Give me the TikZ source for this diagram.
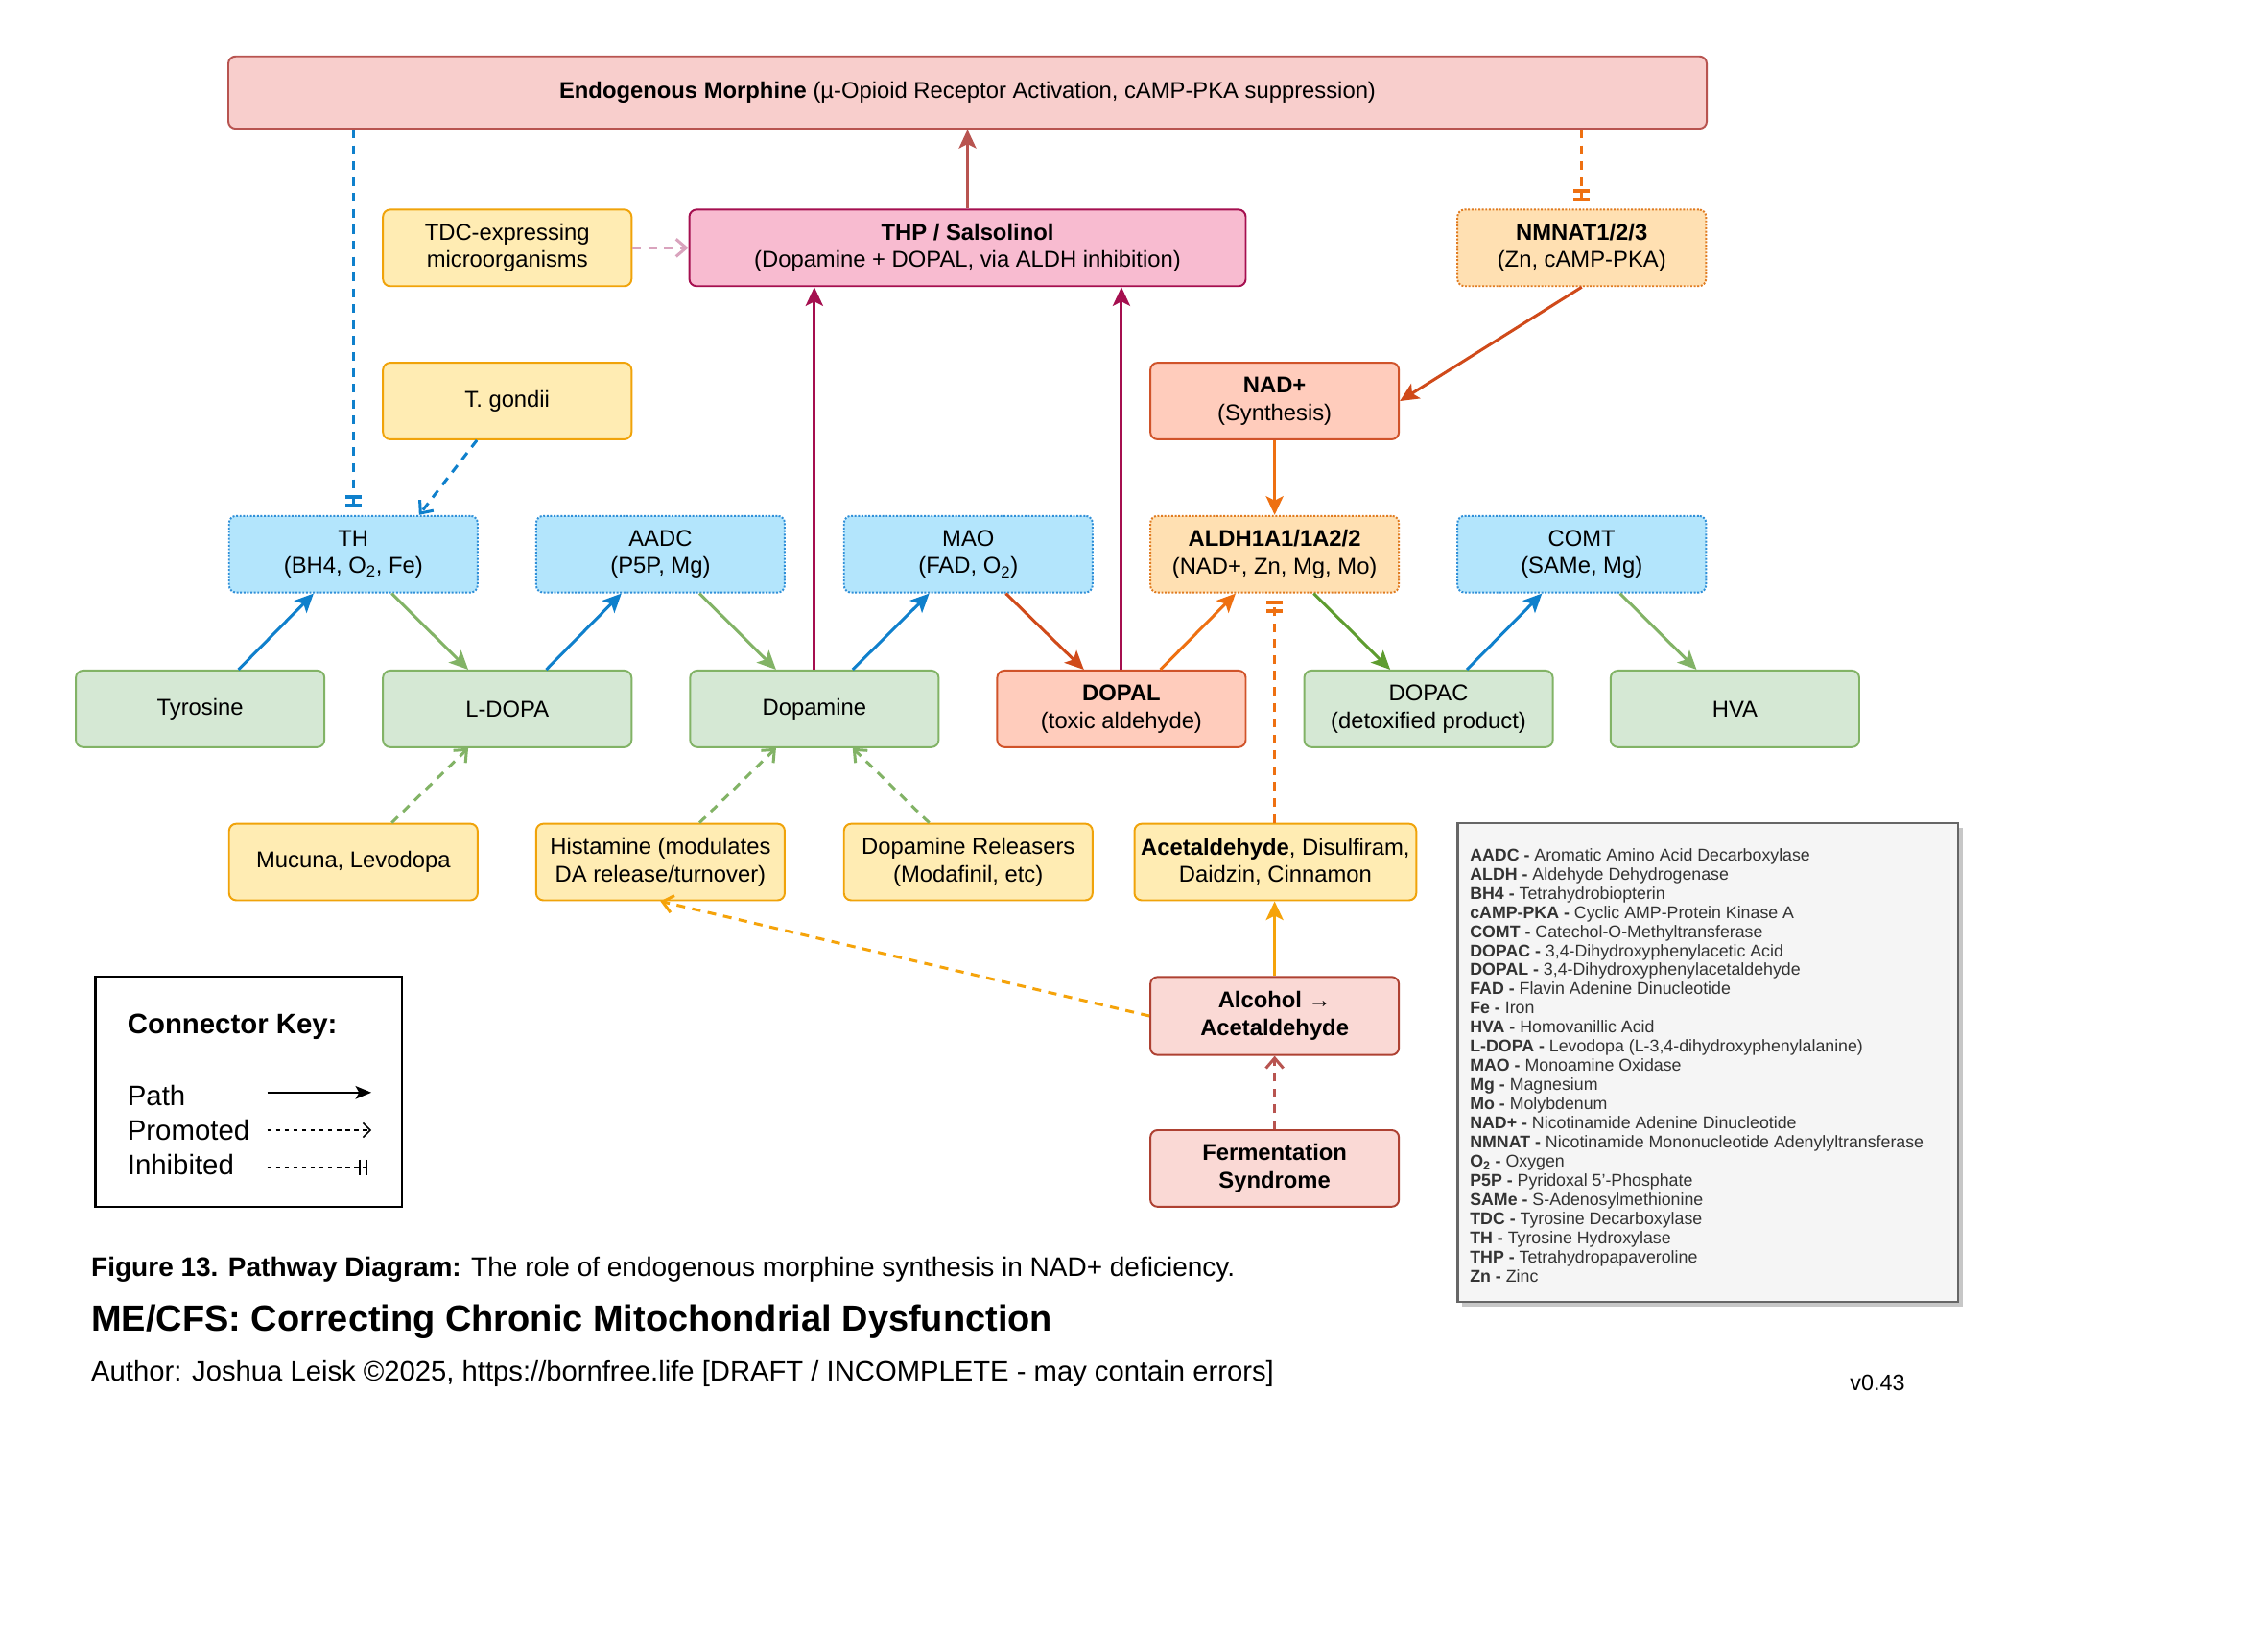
\documentclass[tikz,border=0pt]{standalone}
\usepackage{fontspec}
\setmainfont{Liberation Sans}
\usetikzlibrary{arrows.meta,calc}
\definecolor{cgf}{HTML}{D5E8D4}\definecolor{cgd}{HTML}{82B366}
\definecolor{cbf}{HTML}{B3E5FC}\definecolor{cbd}{HTML}{2F8FD8}
\definecolor{cyf}{HTML}{FFECB3}\definecolor{cyd}{HTML}{F0A30A}
\definecolor{cof}{HTML}{FFE0B2}\definecolor{cod}{HTML}{E07B20}
\definecolor{csf}{HTML}{FFCCBC}\definecolor{csd}{HTML}{D0532A}
\definecolor{cpf}{HTML}{FAD9D5}\definecolor{cpd}{HTML}{AE4132}
\definecolor{cef}{HTML}{F8CECC}\definecolor{ced}{HTML}{B85450}
\definecolor{ctf}{HTML}{F8BBD0}\definecolor{ctd}{HTML}{A50F4F}
\definecolor{ablue}{HTML}{0F80CC}
\definecolor{agreen}{HTML}{82B366}
\definecolor{adkgreen}{HTML}{5E9C2F}
\definecolor{acrim}{HTML}{A50F4F}
\definecolor{ared}{HTML}{D04A1A}
\definecolor{aorange}{HTML}{EE7011}
\definecolor{aamber}{HTML}{F5A30A}
\definecolor{abrick}{HTML}{B85450}
\definecolor{apink}{HTML}{D9A3BD}
\definecolor{abgray}{HTML}{333333}
\newcommand\mynodefont{\fontsize{15.8}{19}\selectfont}
\newcommand\mykeyfont{\fontsize{19.5}{24}\selectfont}
\newcommand\myabfont{\fontsize{11.8}{13.3}\selectfont}
\begin{document}
\begin{tikzpicture}[x=1pt,y=-1pt,
  box/.style={rectangle, rounded corners=5pt, minimum width=172pt, minimum height=53pt,
    align=center, line width=1.3pt, font=\mynodefont, inner sep=2pt, text=black},
  green/.style={box, fill=cgf, draw=cgd},
  enzb/.style={box, fill=cbf, draw=cbd, dash pattern=on 1.3pt off 1.1pt},
  enzo/.style={box, fill=cof, draw=cod, dash pattern=on 1.3pt off 1.1pt},
  yel/.style={box, fill=cyf, draw=cyd},
  sal/.style={box, fill=csf, draw=csd},
  pnk/.style={box, fill=cpf, draw=cpd},
  endobox/.style={box, fill=cef, draw=ced},
  thpbox/.style={box, fill=ctf, draw=ctd},
  pathar/.style={line width=2pt, -{Stealth[length=13pt,width=12pt,inset=3pt]}},
  promar/.style={line width=2pt, dash pattern=on 6pt off 5pt, -{Straight Barb[length=7pt,width=12pt]}},
  inhar/.style={line width=2pt, dash pattern=on 6pt off 5pt,
    -{Bar[width=11pt,line width=2.6pt,sep=3.5pt]Bar[width=11pt,line width=2.6pt]}},
]
\useasboundingbox (0,0) rectangle (1568,1143);
\fill[white] (0,0) rectangle (1568,1143);

% ---- nodes
\node[endobox, minimum width=1023pt, minimum height=50pt] (endo) at (669.5,64)
  {\textbf{Endogenous Morphine} (µ-Opioid Receptor Activation, cAMP-PKA suppression)};
\node[yel] (tdc) at (351,171.5) {TDC-expressing\\microorganisms};
\node[thpbox, minimum width=385pt] (thp) at (669.5,171.5) {\textbf{THP / Salsolinol}\\(Dopamine + DOPAL, via ALDH inhibition)};
\node[enzo] (nmnat) at (1094.5,171.5) {\textbf{NMNAT1/2/3}\\(Zn, cAMP-PKA)};
\node[yel] (tg) at (351,277.5) {T. gondii};
\node[sal] (nad) at (882,277.5) {\textbf{NAD+}\\(Synthesis)};

\node[enzb] (th) at (244.5,383.5) {TH\\(BH4, O\textsubscript{2}, Fe)};
\node[enzb] (aadc) at (457,383.5) {AADC\\(P5P, Mg)};
\node[enzb] (mao) at (670,383.5) {MAO\\(FAD, O\textsubscript{2})};
\node[enzo] (aldh) at (882,383.5) {\textbf{ALDH1A1/1A2/2}\\(NAD+, Zn, Mg, Mo)};
\node[enzb] (comt) at (1094.5,383.5) {COMT\\(SAMe, Mg)};

\node[green] (tyr) at (138.5,490.5) {Tyrosine};
\node[green] (ldopa) at (351,490.5) {L-DOPA};
\node[green] (dopa) at (563.5,490.5) {Dopamine};
\node[sal] (dopal) at (776,490.5) {\textbf{DOPAL}\\(toxic aldehyde)};
\node[green] (dopac) at (988.5,490.5) {DOPAC\\(detoxified product)};
\node[green] (hva) at (1200.5,490.5) {HVA};

\node[yel] (muc) at (244.5,596.5) {Mucuna, Levodopa};
\node[yel] (hist) at (457,596.5) {Histamine (modulates\\DA release/turnover)};
\node[yel] (drel) at (670,596.5) {Dopamine Releasers\\(Modafinil, etc)};
\node[yel, minimum width=195pt] (acet) at (882.5,596.5) {\textbf{Acetaldehyde}, Disulfiram,\\Daidzin, Cinnamon};

\node[pnk, minimum height=54pt] (alc) at (882,703) {\textbf{Alcohol →}\\\textbf{Acetaldehyde}};
\node[pnk] (ferm) at (882,808.5) {\textbf{Fermentation}\\\textbf{Syndrome}};

% ---- connectors
\draw[inhar, ablue] (th.north |- endo.south) -- ([yshift=5pt]th.north);
\draw[promar, ablue] ([xshift=-21pt]tg.south) -- ([xshift=45.5pt]th.north);
\draw[promar, apink] (tdc.east) -- (thp.west);
\draw[pathar, abrick] (thp.north) -- (thp.north |- endo.south);
\draw[pathar, acrim] (dopa.north) -- (dopa.north |- thp.south);
\draw[pathar, acrim] (dopal.north) -- (dopal.north |- thp.south);
\draw[inhar, aorange] (nmnat.north |- endo.south) -- ([yshift=5pt]nmnat.north);
\draw[pathar, ared] (nmnat.south) -- (nad.east);
\draw[pathar, aorange] (nad.south) -- (aldh.north);

\draw[pathar, ablue] ([xshift=26.5pt]tyr.north) -- ([xshift=-27.5pt]th.south);
\draw[pathar, agreen] ([xshift=26.5pt]th.south) -- ([xshift=-27pt]ldopa.north);
\draw[pathar, ablue] ([xshift=27pt]ldopa.north) -- ([xshift=-27pt]aadc.south);
\draw[pathar, agreen] ([xshift=27pt]aadc.south) -- ([xshift=-26.5pt]dopa.north);
\draw[pathar, ablue] ([xshift=26.5pt]dopa.north) -- ([xshift=-27pt]mao.south);
\draw[pathar, ared] ([xshift=26pt]mao.south) -- ([xshift=-26pt]dopal.north);
\draw[pathar, aorange] ([xshift=27pt]dopal.north) -- ([xshift=-27pt]aldh.south);
\draw[pathar, adkgreen] ([xshift=27pt]aldh.south) -- ([xshift=-26.5pt]dopac.north);
\draw[pathar, ablue] ([xshift=26.5pt]dopac.north) -- ([xshift=-27.5pt]comt.south);
\draw[pathar, agreen] ([xshift=26.5pt]comt.south) -- ([xshift=-26.5pt]hva.north);

\draw[inhar, aorange] (acet.north -| aldh.south) -- ([yshift=-5pt]aldh.south);
\draw[promar, agreen] ([xshift=26.5pt]muc.north) -- ([xshift=-27pt]ldopa.south);
\draw[promar, agreen] ([xshift=27pt]hist.north) -- ([xshift=-26.5pt]dopa.south);
\draw[promar, agreen] ([xshift=-27pt]drel.north) -- ([xshift=26.5pt]dopa.south);
\draw[promar, aamber] (alc.west) -- (hist.south);
\draw[pathar, aamber] (alc.north) -- (alc.north |- acet.south);
\draw[promar, abrick] (ferm.north) -- (alc.south);

% ---- connector key
\node[draw=black, line width=1.5pt, minimum width=212pt, minimum height=159pt, inner sep=0pt] (key) at (172,755.5) {};
\node[anchor=west, font=\mykeyfont\bfseries, inner sep=0pt] (keyt) at (88,710.5) {Connector Key:};
\node[anchor=west, font=\mykeyfont, inner sep=0pt] (kpath) at (88,758) {Path};
\node[anchor=west, font=\mykeyfont, inner sep=0pt] (kprom) at (88,782) {Promoted};
\node[anchor=west, font=\mykeyfont, inner sep=0pt] (kinh) at (88,806) {Inhibited};
\coordinate (ka1) at (185,756); \coordinate (kb1) at (257,756);
\coordinate (ka2) at (185,782); \coordinate (kb2) at (257,782);
\coordinate (ka3) at (185,808); \coordinate (kb3) at (254,808);
\draw[black, line width=1.3pt, -{Stealth[length=11pt,width=9pt,inset=2.5pt]}] (ka1) -- (kb1);
\draw[black, line width=1.1pt, dash pattern=on 3pt off 3pt, -{Straight Barb[length=5pt,width=10pt]}] (ka2) -- (kb2);
\draw[black, line width=1.1pt, dash pattern=on 3pt off 3pt,
  -{Bar[width=11pt,line width=1.4pt,sep=3pt]Bar[width=11pt,line width=1.4pt]}] (ka3) -- (kb3);

% ---- abbreviations
\fill[black!22] (1012,573) rectangle (1358,904);
\node[draw=black!60, fill=black!4, line width=1.5pt, minimum width=346pt, minimum height=331pt, inner sep=0pt, anchor=north west] (abbox) at (1008,569) {};
\foreach \ab/\df [count=\i from 0] in {
  AADC/{Aromatic Amino Acid Decarboxylase},
  ALDH/{Aldehyde Dehydrogenase},
  BH4/{Tetrahydrobiopterin},
  cAMP-PKA/{Cyclic AMP-Protein Kinase A},
  COMT/{Catechol-O-Methyltransferase},
  DOPAC/{3,4-Dihydroxyphenylacetic Acid},
  DOPAL/{3,4-Dihydroxyphenylacetaldehyde},
  FAD/{Flavin Adenine Dinucleotide},
  Fe/{Iron},
  HVA/{Homovanillic Acid},
  L-DOPA/{Levodopa (L-3,4-dihydroxyphenylalanine)},
  MAO/{Monoamine Oxidase},
  Mg/{Magnesium},
  Mo/{Molybdenum},
  NAD+/{Nicotinamide Adenine Dinucleotide},
  NMNAT/{Nicotinamide Mononucleotide Adenylyltransferase},
  {O\textsubscript{2}}/{Oxygen},
  P5P/{Pyridoxal 5’-Phosphate},
  SAMe/{S-Adenosylmethionine},
  TDC/{Tyrosine Decarboxylase},
  TH/{Tyrosine Hydroxylase},
  THP/{Tetrahydropapaveroline},
  Zn/{Zinc}}
  \node[anchor=base west, inner sep=0pt, font=\myabfont, text=abgray] (ab\i) at (1017,{595.5+13.27*\i}) {\textbf{\ab\ -} \df};

% ---- captions
\node[anchor=west, inner sep=0pt, font=\fontsize{18.6}{22}\selectfont] (cap) at (63,878.5)
  {\textbf{Figure 13. Pathway Diagram:} The role of endogenous morphine synthesis in NAD+ deficiency.};
\node[anchor=west, inner sep=0pt, font=\fontsize{25.2}{30}\selectfont\bfseries] (title) at (63,914.5)
  {ME/CFS: Correcting Chronic Mitochondrial Dysfunction};
\node[anchor=west, inner sep=0pt, font=\fontsize{19.4}{23}\selectfont] (author) at (63,950.5)
  {Author: Joshua Leisk ©2025, https://bornfree.life [DRAFT / INCOMPLETE - may contain errors]};
\node[anchor=west, inner sep=0pt, font=\fontsize{15.5}{18}\selectfont] (ver) at (1280,957) {v0.43};
\end{tikzpicture}
\end{document}
